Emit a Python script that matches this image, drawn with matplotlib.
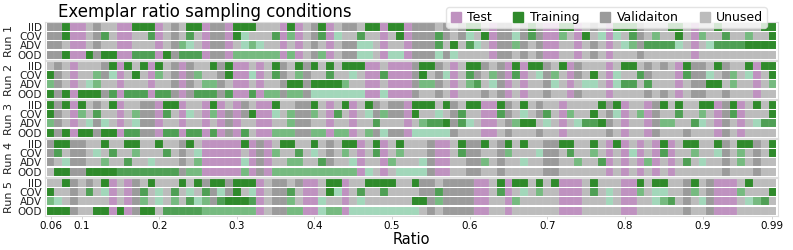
import numpy as np
import matplotlib
matplotlib.use("Agg")
import matplotlib.pyplot as plt
from matplotlib.lines import Line2D

# ---------------- DATA ----------------
# one cell per ratio 0.06 ... 0.99
ratios = np.round(np.arange(6, 100) / 100, 2)
conditions = ["IID", "COV", "ADV", "OOD"]
runs = ["Run 1", "Run 2", "Run 3", "Run 4", "Run 5"]

# P = test, G/g/l/m = training (dark -> light), V = validation, U = unused
run1 = [
    "VVGPPUVUUPPGGGPUVUGGPVVPGGGUUUPGPUVGPUVVUGGPGGP" + "VVVUVUVGGUPVVUVGVPPGGPUVUPGGGVUUUGGUPUUGUUUUUGG",
    "VVGPPUVgUPPUUgPUVUgUPVVPGmUUUgPlPUVgPmUUgUUPUGP" + "VVVgVUVmUGPVVmVgVPPlUPGUmPmUgVUlUUGUPlUUgUUlUUG",
    "VVUPPUVUUPPUUUPUVlmUPVVPUmlmUUPUPUVUPUVVmmUPUUP" + "VVVgUGUgmUPVVlVUVPPUUPUVUPUmlVggggmUPUmggggGGGG",
    "VVGPPGVGGPPgggPGVgggPVVPllllllPlPUVlPUVVmmUPmmP" + "VVVmVmUUUUPVVUVUVPPUUPUVUPUUUVUUUUUUPUUUUUUUUUU",
]
run2 = [
    "UVUPUUUVGPGUGPGUVPVUUGVGPPUPUGVUGVGUGUGGGPPUPPP" + "VGGVUPUGGVUVPGPGGVUGPVUUUPUGGUVUVUPGVVUGVUUGPGG",
    "GVUPUUlVmPUGUPlUVPVlUUVGPPmPUgVUlVUUgUUmUPPgPPP" + "VGUVmPUgVUlVPgPUmVlUPVUGUPmUUgVUUUPgVVmUVlUmPUG",
    "lVUPUmlUUPUUUPUUVPVUllVUPPUPUUVGGVGGGGlUUPPUPPP" + "VllVUPUlgUmVPUPUUVmUPUmmUPmggUgUUUPUVVGGUlUUPUl",
    "GVGPGGGVgPgggPggVPVgggVgPPgPllVllVmmmmmmmPPmPPP" + "VUUVUPUUUVUVPUPUUVUUPVUUUPUUUUVUVUPUVVUUVUUUPUU",
]
run3 = [
    "GVGPGUVUGPUUVVPGGPUUPGPUPVUPPGUUVVGUPUGPUGVUVVP" + "GGGUGVUGGPPGVUGUVUUPUUUUGVGPUUPVGUGUUGGPVGPUGUG",
    "GVUPlUgUUPUlVVPgUPmUPlPVPVGPPmUlVVlUPgUPUmVlVVP" + "GUUmUVgUUPPgVUmUVgUPlUUGUVmPUlPVUUgUUlUPVgPUUUG",
    "lVUPUmVmUPUmVVPUUPUUPUPVPUUPPUUlVVUUPUUPUUgUUUP" + "UlggGVgmUPPUVlGGUmUPUmggGVUPUUPVllUUgmUPVUPUmgg",
    "GVGPGGVGGPggVVPggPggPgPVPgUPPlllVVllPllPUlVmVVP" + "mmmmmVUUUPPUVUUUVUUPUUUUUVUPUUPVUUUVUUUPVUPUUUU",
]
run4 = [
    "VGGVVUUGUUGGUUGUUVGUPPPPPGPVPUGGUUGUVUGGPUGPUGU" + "UUVPPUGVVGUVGUGUUVVGGUUGUPGPUPUPGPUGGUUGVUGGVUG",
    "VgUVVUmUgUUlUUUgUVUmPPPPPUPVPlUUgUmUVUlUPUgPUlU" + "UUVPPUgVVUUVlUUUmVVUgUUlUPUPmPUPgPUUlUUmVUlUVUG",
    "VUmVVUUlUUgUUmUUUVUlPPPPPmPVPUUllUUgVUUmPUUPlUU" + "UmVPPUUVVlUVUUmUUVVUUlUUgPUPUPlPUPUgUmUUVUlUVUU",
    "UGGVVGGGGggggggggVllPPPPPlPVPlllllllllllPmUPUmm" + "mmVPPUUVVUUVUUUUUVVUUUUUUPUPUPUPUPUUUUUUVUUUVUU",
]
run5 = [
    "UUGVUVUGPUPVUGUUUGUGVGGVGGGPUVVUVPPUGGPUUGGGGUU" + "GVVUVVVVPPUGPGGUGUGPPPUGUUUPPGUGGUUVGUVPPPUGUUU",
    "GUUVUgUmPUPVgUmUgUmUgVmVGUmPUVVgUPPUGmPUgUUgUUU" + "UVVgVVVVPPUgPUmUlUUPPPUgUmUPPlUmm" + "UUVlUVPPPlUUUG",
    "lmUVUUUUPUPVlUmUlUgmlVgGGGgPUVVlUPPmUUPUmUUUUUU" + "GGVlVVVVPPUUPlUUUUUPPPUUUmUPPUUml" + "gUVUmVPPPUmlgU",
    "GGGVUUGGPGPVGGU" + "ggggg" + "lllllll" + "PUVVllPPmllP" + "mmmmmmmm"
    + "mUVUVVVVPPUUPUUUUUUPPPUUUUUPPUUUU" + "UUVUUVPPPUUUUU",
]
all_runs = [run1, run2, run3, run4, run5]

colors = {
    "P": "#bf92c0",
    "G": "#2f8a2b",
    "g": "#4f9f55",
    "l": "#76ba80",
    "m": "#a2d7ba",
    "V": "#9b9b9b",
    "U": "#bcbcbc",
}

xticks = [0.06, 0.1, 0.2, 0.3, 0.4, 0.5, 0.6, 0.7, 0.8, 0.9, 0.99]
xticklabels = ["0.06", "0.1", "0.2", "0.3", "0.4", "0.5", "0.6", "0.7", "0.8", "0.9", "0.99"]

# ---------------- FIGURE ----------------
W, H = 793, 250
fig = plt.figure(figsize=(W / 100, H / 100), dpi=100)

left_px, right_px = 45, 778
axes = []
for k, (name, rows) in enumerate(zip(runs, all_runs)):
    top_px = 22 + 39 * k
    h_px = 37.5
    ax = fig.add_axes([left_px / W, 1 - (top_px + h_px) / H,
                       (right_px - left_px) / W, h_px / H])
    for r, row in enumerate(rows):
        if len(row) != len(ratios):
            print(name, conditions[r], "has", len(row), "cells")
        row = row.ljust(len(ratios), "U")[:len(ratios)]
        cols = [colors[c] for c in row]
        ax.barh(np.full(len(ratios), r), 0.01, left=ratios - 0.005,
                height=0.84, color=cols, edgecolor=(1, 1, 1, 0.12),
                linewidth=0.3)
    ax.set_xlim(0.0528, 0.9972)
    ax.set_ylim(3.52, -0.52)
    ax.set_yticks(range(4))
    ax.set_yticklabels(conditions, fontsize=7.5, color="#222222")
    ax.tick_params(axis="y", length=0, pad=2)
    ax.set_xticks(xticks)
    ax.tick_params(axis="x", length=2.5, width=0.6, color="#cccccc",
                   labelsize=7.5, pad=1.5)
    if k < len(runs) - 1:
        ax.set_xticklabels([])
    else:
        ax.set_xticklabels(xticklabels)
    ax.set_ylabel(name, fontsize=8, labelpad=3, color="#222222")
    for s in ax.spines.values():
        s.set_color("#dddddd")
        s.set_linewidth(0.8)
    axes.append(ax)

axes[-1].set_xlabel("Ratio", fontsize=10.5, labelpad=1)

fig.text(58 / W, 1 - 12 / H, "Exemplar ratio sampling conditions",
         fontsize=12, va="center", ha="left")

handles = [
    Line2D([], [], marker="s", ls="", color=colors["P"], markersize=6.5, label="Test"),
    Line2D([], [], marker="s", ls="", color=colors["G"], markersize=6.5, label="Training"),
    Line2D([], [], marker="s", ls="", color=colors["V"], markersize=6.5, label="Validaiton"),
    Line2D([], [], marker="s", ls="", color=colors["U"], markersize=6.5, label="Unused"),
]
fig.legend(handles=handles, ncol=4, loc="upper right",
           bbox_to_anchor=(773 / W, 1 - 1 / H), fontsize=9,
           frameon=True, handletextpad=0.4, columnspacing=1.6,
           borderpad=0.3, handlelength=1.0, edgecolor="#dddddd")

fig.savefig("out.png", dpi=100)
